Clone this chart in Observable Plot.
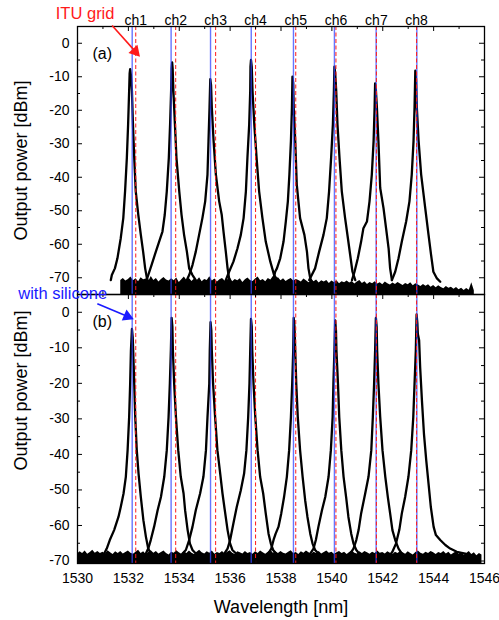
<!DOCTYPE html>
<html><head><meta charset="utf-8">
<script src="https://cdn.jsdelivr.net/npm/d3@7"></script>
<script src="https://cdn.jsdelivr.net/npm/@observablehq/plot@0.6"></script>
<style>
body{margin:0;background:#fff;}
#chart{position:relative;width:499px;height:620px;overflow:hidden;background:#fff;}
#chart svg{position:absolute;left:0;overflow:visible;background:transparent;}
</style></head><body><div id="chart"></div>
<script>
// ---------- data ----------
const channels = ["ch1","ch2","ch3","ch4","ch5","ch6","ch7","ch8"];
const ituGrid = [1532.29,1533.86,1535.43,1537.00,1538.58,1540.16,1541.75,1543.33];
const siliconeLines = [1532.15,1533.68,1535.23,1536.83,1538.49,1540.10,1541.74,1543.34];
const xDomain = [1530,1546];
const yDomainA = [-75,5];
const yDomainB = [-70.7,5];
const xTickLabels = [1530,1532,1534,1536,1538,1540,1542,1544,1546];
const xMinorTicks = [1531,1533,1535,1537,1539,1541,1543,1545];
const yTickLabels = [0,-10,-20,-30,-40,-50,-60,-70];
const yMinorTicks = [-5,-15,-25,-35,-45,-55,-65];

// panel (a): without silicone, [wavelength nm, power dBm]
const traceA1 = [[1531.31,-70.7],[1531.35,-69.2],[1531.47,-67.2],[1531.57,-64.2],[1531.70,-58.2],[1531.80,-52.2],[1531.87,-44.2],[1531.94,-34.2],[1531.99,-24.2],[1532.03,-14.2],[1532.05,-9],[1532.07,-7.7],[1532.10,-9.5],[1532.14,-14.2],[1532.18,-24.2],[1532.23,-34.2],[1532.29,-44.2],[1532.39,-51.2],[1532.49,-57.2],[1532.58,-62.2],[1532.66,-67.2],[1532.73,-70.2],[1532.80,-71.5]];
const traceA2 = [[1532.69,-71.2],[1532.78,-69.2],[1532.91,-66.2],[1533.08,-62.2],[1533.21,-59.2],[1533.34,-56.2],[1533.43,-51.2],[1533.51,-44.2],[1533.59,-34.2],[1533.64,-24.2],[1533.68,-14.2],[1533.70,-7.5],[1533.72,-5.7],[1533.74,-7.5],[1533.77,-14.2],[1533.83,-24.2],[1533.89,-34.2],[1534.00,-44.2],[1534.09,-51.2],[1534.19,-57.2],[1534.30,-62.2],[1534.39,-67.2],[1534.52,-69.2],[1534.65,-70.7]];
const traceA3 = [[1534.30,-70.7],[1534.39,-69.2],[1534.52,-66.2],[1534.65,-62.2],[1534.78,-57.2],[1534.91,-52.2],[1535.02,-47.2],[1535.11,-39.2],[1535.15,-29.2],[1535.19,-19.2],[1535.22,-10.7],[1535.25,-12.5],[1535.28,-19.2],[1535.35,-29.2],[1535.44,-39.2],[1535.57,-47.2],[1535.67,-51.2],[1535.74,-56.2],[1535.83,-62.2],[1535.90,-67.2],[1535.96,-70.2],[1536.02,-71.5]];
const traceA4 = [[1535.83,-70.7],[1535.96,-68.2],[1536.13,-65.2],[1536.29,-61.2],[1536.42,-57.2],[1536.53,-52.2],[1536.62,-44.2],[1536.68,-34.2],[1536.75,-24.2],[1536.79,-14.2],[1536.80,-7],[1536.82,-5.0],[1536.85,-7],[1536.88,-14.2],[1536.95,-24.2],[1537.04,-34.2],[1537.14,-44.2],[1537.27,-52.2],[1537.40,-59.2],[1537.58,-65.2],[1537.73,-69.2],[1537.86,-70.7]];
const traceA5 = [[1537.70,-70.7],[1537.77,-68.2],[1537.84,-67.2],[1537.97,-64.2],[1538.10,-59.2],[1538.19,-53.2],[1538.27,-47.2],[1538.33,-39.2],[1538.39,-29.2],[1538.43,-19.2],[1538.45,-10.0],[1538.48,-12],[1538.50,-19.2],[1538.56,-29.2],[1538.62,-42.2],[1538.75,-52.2],[1538.92,-57.2],[1539.02,-62.2],[1539.08,-67.2],[1539.15,-70.2],[1539.22,-71.2]];
const traceA6 = [[1539.11,-70.7],[1539.21,-69.2],[1539.34,-67.2],[1539.50,-62.2],[1539.67,-57.2],[1539.80,-52.2],[1539.89,-44.2],[1539.97,-34.2],[1540.04,-24.2],[1540.08,-14.2],[1540.10,-7.0],[1540.13,-9],[1540.17,-14.2],[1540.22,-24.2],[1540.30,-34.2],[1540.39,-44.2],[1540.52,-52.2],[1540.63,-58.2],[1540.72,-63.2],[1540.81,-68.2],[1540.92,-70.7]];
const traceA7 = [[1540.79,-70.7],[1540.89,-68.2],[1541.02,-64.2],[1541.15,-59.2],[1541.24,-55.2],[1541.38,-53.2],[1541.48,-47.2],[1541.57,-39.2],[1541.64,-29.2],[1541.68,-19.2],[1541.70,-12.0],[1541.73,-14],[1541.77,-19.2],[1541.83,-29.2],[1541.90,-43.2],[1542.03,-49.2],[1542.13,-55.2],[1542.23,-61.2],[1542.29,-67.2],[1542.36,-70.7]];
const traceA8 = [[1542.36,-70.7],[1542.49,-68.2],[1542.62,-64.2],[1542.75,-59.2],[1542.92,-53.2],[1543.05,-47.2],[1543.14,-39.2],[1543.21,-29.2],[1543.25,-19.2],[1543.28,-8.2],[1543.31,-11],[1543.34,-19.2],[1543.41,-29.2],[1543.51,-39.2],[1543.67,-49.2],[1543.80,-57.2],[1543.90,-63.2],[1543.99,-68.2],[1544.13,-70.2],[1544.26,-71.2]];

// panel (b): with silicone
const traceB1 = [[1530.95,-69.0],[1531.05,-67.9],[1531.15,-66.5],[1531.27,-64.1],[1531.44,-61.3],[1531.61,-57.6],[1531.70,-54.8],[1531.81,-51.0],[1531.90,-46.3],[1531.97,-38.8],[1532.03,-29.5],[1532.07,-20.1],[1532.10,-10.75],[1532.14,-4.7],[1532.17,-7],[1532.19,-10.75],[1532.23,-20.1],[1532.27,-29.5],[1532.33,-38.8],[1532.40,-45.4],[1532.49,-52.0],[1532.59,-58.5],[1532.69,-63.2],[1532.78,-66.5],[1532.88,-67.9],[1532.98,-69]];
const traceB2 = [[1532.60,-69],[1532.69,-67.9],[1532.78,-66.5],[1532.88,-64.1],[1533.01,-60.4],[1533.15,-55.7],[1533.28,-52.0],[1533.41,-46.3],[1533.51,-38.8],[1533.58,-29.5],[1533.63,-20.1],[1533.67,-10.75],[1533.70,-1.6],[1533.73,-4],[1533.75,-10.75],[1533.80,-20.1],[1533.87,-29.5],[1533.96,-38.8],[1534.06,-46.3],[1534.17,-51.0],[1534.23,-55.7],[1534.33,-61.3],[1534.42,-65.1],[1534.52,-66.9],[1534.65,-67.9],[1534.75,-69]];
const traceB3 = [[1534.03,-69],[1534.13,-67.9],[1534.26,-66.9],[1534.39,-64.1],[1534.52,-60.4],[1534.65,-55.7],[1534.82,-51.0],[1534.95,-46.3],[1535.05,-38.8],[1535.11,-29.5],[1535.18,-20.1],[1535.20,-10.75],[1535.23,-2.8],[1535.26,-5],[1535.28,-10.75],[1535.33,-20.1],[1535.41,-29.5],[1535.50,-38.8],[1535.61,-45.4],[1535.70,-51.0],[1535.79,-55.7],[1535.90,-61.3],[1536.00,-65.1],[1536.09,-66.9],[1536.23,-67.9],[1536.33,-69]];
const traceB4 = [[1535.67,-69],[1535.77,-67.9],[1535.90,-66.5],[1536.00,-64.1],[1536.13,-59.4],[1536.26,-54.8],[1536.42,-50.1],[1536.55,-45.4],[1536.64,-38.8],[1536.71,-29.5],[1536.76,-20.1],[1536.79,-10.75],[1536.82,-1.9],[1536.85,-4],[1536.87,-10.75],[1536.92,-20.1],[1536.99,-29.5],[1537.08,-38.8],[1537.18,-46.3],[1537.30,-51.0],[1537.40,-56.6],[1537.51,-62.3],[1537.60,-65.1],[1537.69,-66.9],[1537.80,-67.9],[1537.90,-69]];
const traceB5 = [[1537.40,-69],[1537.50,-67.9],[1537.62,-66.5],[1537.71,-64],[1537.79,-62.3],[1537.90,-60.4],[1538.01,-56.6],[1538.12,-52.0],[1538.23,-46.3],[1538.32,-38.8],[1538.39,-29.5],[1538.44,-20.1],[1538.48,-10.75],[1538.50,-1.6],[1538.53,-4],[1538.56,-10.75],[1538.60,-20.1],[1538.66,-29.5],[1538.75,-38.8],[1538.85,-46.3],[1538.95,-52.9],[1539.04,-57.6],[1539.15,-62.3],[1539.24,-65.1],[1539.34,-66.9],[1539.47,-67.9],[1539.57,-69]];
const traceB6 = [[1539.05,-69],[1539.15,-67.9],[1539.28,-66.5],[1539.37,-64.1],[1539.47,-60.4],[1539.61,-55.7],[1539.74,-52.0],[1539.87,-46.3],[1539.96,-38.8],[1540.03,-29.5],[1540.06,-20.1],[1540.10,-10.75],[1540.13,-2.3],[1540.16,-5],[1540.18,-10.75],[1540.24,-20.1],[1540.29,-29.5],[1540.37,-38.8],[1540.46,-46.3],[1540.56,-52.0],[1540.65,-57.6],[1540.76,-62.3],[1540.85,-65.1],[1540.96,-66.9],[1541.07,-67.9],[1541.17,-69]];
const traceB7 = [[1540.62,-69],[1540.72,-67.9],[1540.85,-66.5],[1540.96,-64.1],[1541.05,-61.3],[1541.15,-56.6],[1541.31,-51.0],[1541.44,-46.3],[1541.55,-38.8],[1541.61,-29.5],[1541.66,-20.1],[1541.70,-10.75],[1541.73,-1.6],[1541.76,-4],[1541.78,-10.75],[1541.83,-20.1],[1541.90,-29.5],[1541.99,-38.8],[1542.10,-46.3],[1542.20,-52.0],[1542.29,-56.6],[1542.38,-61.3],[1542.49,-64.1],[1542.62,-66.5],[1542.75,-67.9],[1542.85,-69]];
const traceB8 = [[1542.19,-69.2],[1542.29,-68.3],[1542.38,-67.4],[1542.52,-65.1],[1542.65,-61.3],[1542.75,-56.6],[1542.88,-52.0],[1543.01,-46.3],[1543.12,-38.8],[1543.20,-29.5],[1543.25,-20.1],[1543.30,-10.75],[1543.33,-0.6],[1543.36,-3],[1543.38,-6.1],[1543.43,-7.9],[1543.47,-15.4],[1543.54,-24.8],[1543.62,-34.2],[1543.71,-41.7],[1543.80,-48.2],[1543.89,-54.8],[1544.00,-60.4],[1544.09,-62.7],[1544.26,-64.1],[1544.46,-65.5],[1544.65,-66.5],[1544.91,-67.4],[1545.24,-67.9],[1545.40,-68.5]];

// noise floor: top edge of the dark band, sampled every 0.1 nm
const noiseAStart = 1531.7, noiseBStart = 1530.0, noiseStep = 0.1;
const noiseTopA = [-70.8,-70.2,-71.0,-70.5,-69.8,-70.9,-70.3,-71.2,-70.0,-70.6,
-70.4,-71.1,-69.6,-70.8,-70.2,-71.3,-70.5,-69.9,-70.7,-71.0,
-70.3,-70.9,-70.1,-71.4,-70.6,-69.8,-70.8,-70.2,-71.1,-70.4,
-70.9,-70.0,-71.2,-70.5,-70.8,-69.7,-71.0,-70.4,-71.3,-70.6,
-70.2,-71.0,-70.7,-69.9,-71.2,-70.5,-70.9,-70.3,-71.4,-70.6,
-70.1,-70.8,-71.1,-70.4,-69.8,-70.9,-70.5,-71.2,-70.2,-70.7,
-69.6,-70.4,-70.0,-70.9,-70.3,-71.1,-70.6,-70.2,-71.0,-70.5,
-70.8,-71.3,-70.4,-70.9,-71.5,-70.6,-71.2,-70.7,-71.6,-70.9,
-71.3,-70.8,-71.7,-71.0,-71.4,-70.9,-71.8,-71.2,-71.5,-71.0,
-71.6,-71.1,-71.9,-71.3,-70.8,-71.7,-71.2,-72.0,-71.4,-71.8,
-71.2,-71.9,-71.5,-72.1,-71.3,-71.8,-72.2,-71.6,-72.0,-71.4,
-71.9,-72.3,-71.7,-72.1,-71.5,-72.4,-71.8,-72.2,-72.6,-72.0,
-72.5,-72.1,-72.8,-72.3,-73.0,-72.4,-72.9,-73.3,-72.6,-73.1,
-72.8,-73.4,-72.9,-73.6,-73.1,-73.8,-73.2,-73.7,-71.5,-73.9];
const noiseTopB = [-68.0,-67.4,-67.9,-67.2,-68.1,-67.6,-67.0,-67.8,-67.3,-67.9,
-67.5,-68.0,-67.1,-67.7,-68.2,-67.4,-67.9,-67.3,-68.0,-67.6,
-67.2,-67.8,-68.1,-67.5,-67.0,-67.9,-67.4,-68.2,-67.6,-67.1,
-67.8,-67.3,-68.0,-67.6,-67.2,-67.9,-68.3,-67.5,-67.8,-67.1,
-67.7,-68.1,-67.4,-67.9,-67.2,-67.8,-68.2,-67.5,-67.0,-67.7,
-68.0,-67.4,-67.8,-67.2,-68.1,-67.6,-67.9,-67.3,-68.0,-67.5,
-67.1,-67.8,-68.2,-67.4,-67.7,-68.0,-67.3,-67.9,-67.6,-68.1,
-67.4,-67.9,-67.2,-67.7,-68.1,-67.5,-67.0,-67.8,-67.4,-67.9,
-67.3,-67.8,-68.0,-67.5,-67.1,-67.9,-67.6,-68.2,-67.4,-67.8,
-67.2,-67.7,-68.1,-67.5,-67.9,-67.3,-68.0,-67.6,-67.2,-67.8,
-67.5,-68.1,-67.7,-67.3,-67.9,-67.5,-68.2,-67.6,-67.1,-67.8,
-68.0,-67.4,-67.9,-67.3,-67.7,-68.1,-67.5,-67.9,-67.2,-67.8,
-67.6,-68.0,-67.4,-67.8,-68.2,-67.5,-67.9,-67.3,-67.7,-68.1,
-67.4,-67.9,-68.3,-67.6,-67.2,-67.8,-68.1,-67.5,-67.9,-67.3,
-67.7,-68.2,-67.6,-67.9,-67.3,-68.0,-67.5,-68.3,-67.8,-67.4,
-68.1,-67.6,-68.4,-67.9,-67.3,-68.2,-67.7,-68.5,-67.9,-68.3];

// annotations (data coordinates)
const ituNote = [{text:"ITU grid", w:1530.30, v:8.9}];
const ituArrow = [{w1:1531.36, v1:5.3, w2:1532.35, v2:-3.1, angle:138}];
const siliconeNote = [{text:"with silicone", w:1529.42, v:5.3}];
const siliconeArrow = [{w1:1530.78, v1:2.4, w2:1532.07, v2:-1.5, angle:113}];
const panelNames = ["(a)","(b)"];
const yTitle = "Output power [dBm]";
const xTitle = "Wavelength [nm]";

// ---------- build ----------
const tracesA = [traceA1,traceA2,traceA3,traceA4,traceA5,traceA6,traceA7,traceA8];
const tracesB = [traceB1,traceB2,traceB3,traceB4,traceB5,traceB6,traceB7,traceB8];
const toRows = ts => ts.flatMap((t,i) => t.map(([w,v]) => ({ch:channels[i], w, v})));
const rowsA = toRows(tracesA), rowsB = toRows(tracesB);
const noiseA = noiseTopA.map((v,i) => ({w: noiseAStart + i*noiseStep, v}));
const noiseB = noiseTopB.map((v,i) => ({w: noiseBStart + i*noiseStep, v}));

const font = '"Liberation Sans", Arial, Helvetica, sans-serif';
const W = 499, ML = 77, MR = 15;
const PW = W - ML - MR;
const MAJ = 5, MIN = 3;

function frameTicks(PH) {
  const xMaj = xTickLabels, xMin = xMinorTicks;
  const yMaj = yTickLabels, yMin = yMinorTicks;
  return [
    Plot.tickX(xMaj, {x: d=>d, insetTop: PH-MAJ, stroke:"black", strokeWidth:1}),
    Plot.tickX(xMin, {x: d=>d, insetTop: PH-MIN, stroke:"black", strokeWidth:1}),
    Plot.tickX(xMaj, {x: d=>d, insetBottom: PH-MAJ, stroke:"black", strokeWidth:1}),
    Plot.tickX(xMin, {x: d=>d, insetBottom: PH-MIN, stroke:"black", strokeWidth:1}),
    Plot.tickY(yMaj, {y: d=>d, insetRight: PW-MAJ, stroke:"black", strokeWidth:1}),
    Plot.tickY(yMin, {y: d=>d, insetRight: PW-MIN, stroke:"black", strokeWidth:1}),
    Plot.tickY(yMaj, {y: d=>d, insetLeft: PW-MAJ, stroke:"black", strokeWidth:1}),
    Plot.tickY(yMin, {y: d=>d, insetLeft: PW-MIN, stroke:"black", strokeWidth:1})
  ];
}
function refLines() {
  return [
    Plot.ruleX(siliconeLines, {x: d=>d, stroke:"#3346ff", strokeWidth:1.4, strokeOpacity:0.75}),
    Plot.ruleX(ituGrid, {x: d=>d, stroke:"#ff1a1a", strokeWidth:1, strokeDasharray:"4,2.5"})
  ];
}
function pointer(data, color, dxh, dyh) {
  return [
    Plot.link(data, {x1:"w1", y1:"v1", x2:"w2", y2:"v2", stroke:color, strokeWidth:1.6}),
    Plot.dot(data, {x:"w2", y:"v2", symbol:"triangle", r:4.5, fill:color, stroke:null, rotate:"angle", dx:dxh, dy:dyh})
  ];
}

// Panel (a)
const hA = 294, mtA = 26;
const plotA = Plot.plot({
  width: W, height: hA,
  marginLeft: ML, marginRight: MR, marginTop: mtA, marginBottom: 0,
  style: {fontFamily: font, fontSize: "14px", background: "transparent", overflow: "visible"},
  x: {domain: xDomain, axis: null},
  y: {domain: yDomainA},
  marks: [
    Plot.areaY(noiseA, {x:"w", y1: yDomainA[0], y2:"v", fill:"black", clip:true}),
    Plot.line(rowsA, {x:"w", y:"v", z:"ch", stroke:"black", strokeWidth:2.3, clip:true}),
    ...refLines(),
    ...frameTicks(hA - mtA),
    Plot.frame({stroke:"black", strokeWidth:1.3}),
    Plot.axisY({ticks: yTickLabels, tickSize:0, tickPadding:8, tickFormat: d=>String(d), label:null, fontSize:14}),
    Plot.text(channels, {x: (d,i)=>ituGrid[i], frameAnchor:"top", dy:-11, fontSize:14, fill:"black"}),
    Plot.text(ituNote, {x:"w", y:"v", text:"text", fill:"#ff1a1a", fontSize:16.5}),
    ...pointer(ituArrow, "#ff1a1a", -2, -2.2),
    Plot.text([panelNames[0]], {frameAnchor:"top-left", dx:15, dy:27, textAnchor:"start", lineAnchor:"middle", fontSize:16}),
    Plot.text([yTitle], {frameAnchor:"left", dx:-56, rotate:-90, textAnchor:"middle", lineAnchor:"middle", fontSize:18})
  ]
});

// Panel (b)
const topB = 270, hB = 350, mtB = 24, mbB = 57;
const plotB = Plot.plot({
  width: W, height: hB,
  marginLeft: ML, marginRight: MR, marginTop: mtB, marginBottom: mbB,
  style: {fontFamily: font, fontSize: "14px", background: "transparent", overflow: "visible"},
  x: {domain: xDomain},
  y: {domain: yDomainB},
  marks: [
    Plot.areaY(noiseB, {x:"w", y1: yDomainB[0], y2:"v", fill:"black", clip:true}),
    Plot.line(rowsB, {x:"w", y:"v", z:"ch", stroke:"black", strokeWidth:2.3, clip:true}),
    ...refLines(),
    ...frameTicks(hB - mtB - mbB),
    Plot.frame({stroke:"black", strokeWidth:1.3}),
    Plot.axisY({ticks: yTickLabels, tickSize:0, tickPadding:8, tickFormat: d=>String(d), label:null, fontSize:14}),
    Plot.axisX({ticks: xTickLabels, tickSize:0, tickPadding:10, tickFormat: d=>String(d), label:null, fontSize:14}),
    Plot.text(siliconeNote, {x:"w", y:"v", text:"text", fill:"#1a1aff", fontSize:16.5}),
    ...pointer(siliconeArrow, "#1a1aff", -2.8, -1.2),
    Plot.text([panelNames[1]], {frameAnchor:"top-left", dx:15, dy:27, textAnchor:"start", lineAnchor:"middle", fontSize:16}),
    Plot.text([yTitle], {frameAnchor:"top-left", dx:-56, dy:96, rotate:-90, textAnchor:"middle", lineAnchor:"middle", fontSize:18}),
    Plot.text([xTitle], {frameAnchor:"bottom", dy:44, lineAnchor:"middle", fontSize:18})
  ]
});

const root = document.getElementById("chart");
plotA.style.top = "0px";
plotB.style.top = topB + "px";
root.appendChild(plotA);
root.appendChild(plotB);
</script></body></html>
